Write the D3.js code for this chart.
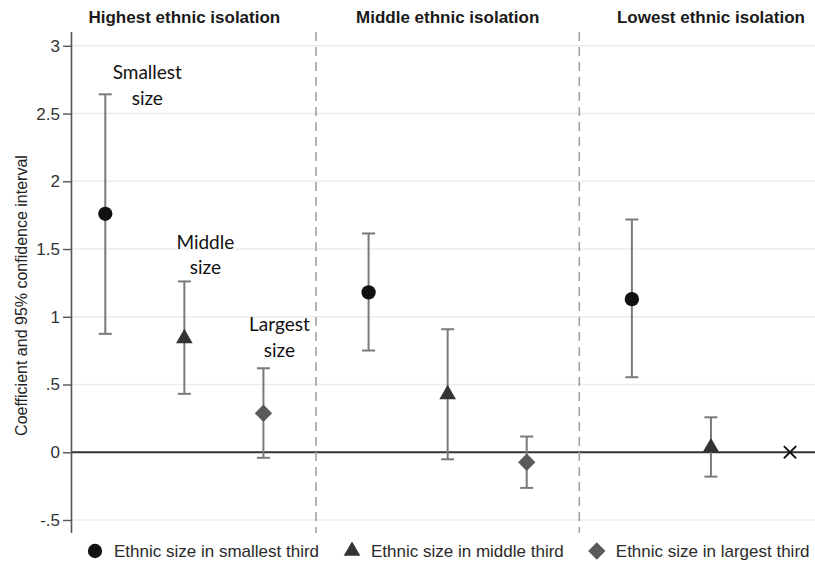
<!DOCTYPE html>
<html>
<head>
<meta charset="utf-8">
<script src="https://cdn.jsdelivr.net/npm/d3@7"></script>
<style>
  html, body { margin: 0; padding: 0; background: #fff; }
  svg { display: block; }
</style>
</head>
<body>
<svg id="chart" width="815" height="572"></svg>
<script>
// Panels (ethnic isolation tercile) and series (ethnic size tercile)
const panels = ["Highest ethnic isolation", "Middle ethnic isolation", "Lowest ethnic isolation"];
const seriesNames = ["Ethnic size in smallest third", "Ethnic size in middle third", "Ethnic size in largest third"];

// Coefficients and 95% CI bounds, one value per panel
const smallestCoef = [1.76, 1.18, 1.13];
const smallestLo   = [0.874, 0.751, 0.554];
const smallestHi   = [2.642, 1.615, 1.718];

const middleCoef = [0.84, 0.427, 0.035];
const middleLo   = [0.431, -0.052, -0.18];
const middleHi   = [1.261, 0.908, 0.258];

// Last panel has no estimate for the largest-size group (marked with an X at zero)
const largestCoef = [0.288, -0.074, null];
const largestLo   = [-0.041, -0.263, null];
const largestHi   = [0.62, 0.116, null];
const omittedValue = 0;

const yTicks = [-0.5, 0, 0.5, 1, 1.5, 2, 2.5, 3];
const yTickLabels = ["-.5", "0", ".5", "1", "1.5", "2", "2.5", "3"];

const sizeLabels = [["Smallest", "size"], ["Middle", "size"], ["Largest", "size"]];

// ---- layout ----
const svg = d3.select("#chart");
const plotLeft = 72, plotRight = 815, plotTop = 32, plotBottom = 533;
const panelStep = 3.33;             // spacing between panels in x units
const xPos = (p, s) => p * panelStep + s;

const x = d3.scaleLinear().domain([-0.421, 8.976]).range([plotLeft, plotRight]);
const y = d3.scaleLinear().domain([-0.596, 3.102]).range([plotBottom, plotTop]);

const series = [
  { name: seriesNames[0], coef: smallestCoef, lo: smallestLo, hi: smallestHi, symbol: d3.symbolCircle, size: 160, rotate: 0, fill: "#111111" },
  { name: seriesNames[1], coef: middleCoef, lo: middleLo, hi: middleHi, symbol: d3.symbolTriangle, size: 120, rotate: 0, fill: "#333333" },
  { name: seriesNames[2], coef: largestCoef, lo: largestLo, hi: largestHi, symbol: d3.symbolSquare, size: 150, rotate: 45, fill: "#5a5a5a" }
];

// gridlines
svg.append("g")
  .selectAll("line")
  .data(yTicks.filter(v => v !== 0))
  .join("line")
  .attr("x1", plotLeft).attr("x2", plotRight)
  .attr("y1", d => y(d)).attr("y2", d => y(d))
  .attr("stroke", "#ececec").attr("stroke-width", 1.6);

// zero reference line
svg.append("line")
  .attr("x1", plotLeft).attr("x2", plotRight)
  .attr("y1", y(0)).attr("y2", y(0))
  .attr("stroke", "#333").attr("stroke-width", 1.8);

// dashed separators between panels
svg.append("g")
  .selectAll("line")
  .data([1, 2])
  .join("line")
  .attr("x1", d => x(xPos(d, 0) - (panelStep - 2) / 2))
  .attr("x2", d => x(xPos(d, 0) - (panelStep - 2) / 2))
  .attr("y1", plotTop).attr("y2", plotBottom)
  .attr("stroke", "#a0a0a0").attr("stroke-width", 1.6)
  .attr("stroke-dasharray", "9,6");

// y axis
const yAxis = d3.axisLeft(y)
  .tickValues(yTicks)
  .tickFormat((d, i) => yTickLabels[i])
  .tickSize(9)
  .tickPadding(3);
const ya = svg.append("g").attr("transform", `translate(${plotLeft},0)`).call(yAxis);
ya.select(".domain").attr("stroke", "#555").attr("stroke-width", 1.6).attr("d", `M-0.5,${plotTop}V${plotBottom}`);
ya.selectAll(".tick line").attr("stroke", "#555").attr("stroke-width", 1.4);
ya.selectAll(".tick text")
  .attr("font-family", "'Liberation Sans', Arial, sans-serif")
  .attr("font-size", 17)
  .attr("fill", "#333");

// y axis title
svg.append("text")
  .attr("transform", `translate(21,${(plotTop + plotBottom) / 2 + 13}) rotate(-90)`)
  .attr("text-anchor", "middle")
  .attr("dominant-baseline", "central")
  .attr("font-family", "'Liberation Sans', Arial, sans-serif")
  .attr("font-size", 16)
  .attr("fill", "#222")
  .text("Coefficient and 95% confidence interval");

// panel titles
svg.append("g")
  .selectAll("text")
  .data(panels)
  .join("text")
  .attr("x", (d, i) => x(xPos(i, 1)))
  .attr("y", 17)
  .attr("text-anchor", "middle")
  .attr("dominant-baseline", "central")
  .attr("font-family", "'Liberation Sans', Arial, sans-serif")
  .attr("font-weight", "bold")
  .attr("font-size", 17)
  .attr("fill", "#1a1a1a")
  .text(d => d);

// confidence intervals and point estimates
const capHalf = 6.5;
series.forEach((s, si) => {
  const rows = panels.map((p, pi) => ({ pi, coef: s.coef[pi], lo: s.lo[pi], hi: s.hi[pi] }))
    .filter(r => r.coef !== null);
  const g = svg.append("g");
  const ci = g.selectAll("g.ci").data(rows).join("g").attr("class", "ci")
    .attr("stroke", "#7a7a7a").attr("stroke-width", 2).attr("fill", "none");
  ci.append("line")
    .attr("x1", r => x(xPos(r.pi, si))).attr("x2", r => x(xPos(r.pi, si)))
    .attr("y1", r => y(r.lo)).attr("y2", r => y(r.hi));
  ci.append("line")
    .attr("x1", r => x(xPos(r.pi, si)) - capHalf).attr("x2", r => x(xPos(r.pi, si)) + capHalf)
    .attr("y1", r => y(r.hi)).attr("y2", r => y(r.hi));
  ci.append("line")
    .attr("x1", r => x(xPos(r.pi, si)) - capHalf).attr("x2", r => x(xPos(r.pi, si)) + capHalf)
    .attr("y1", r => y(r.lo)).attr("y2", r => y(r.lo));
  g.selectAll("path.pt").data(rows).join("path").attr("class", "pt")
    .attr("d", d3.symbol().type(s.symbol).size(s.size))
    .attr("transform", r => `translate(${x(xPos(r.pi, si))},${y(r.coef)}) rotate(${s.rotate})`)
    .attr("fill", s.fill);
});

// omitted estimate marker
const timesType = d3.symbolTimes || d3.symbolX;
const omitted = panels.map((p, pi) => pi).filter(pi => largestCoef[pi] === null);
svg.append("g").selectAll("path").data(omitted).join("path")
  .attr("d", d3.symbol().type(timesType).size(100))
  .attr("transform", pi => `translate(${x(xPos(pi, 2))},${y(omittedValue)})`)
  .attr("fill", "none").attr("stroke", "#111").attr("stroke-width", 2);

// size annotations in the first panel
const annoAnchor = [
  { s: 0, v: 2.72, dx: 42 },
  { s: 1, v: 1.47, dx: 21 },
  { s: 2, v: 0.86, dx: 16 }
];
const anno = svg.append("g")
  .attr("font-family", "Lato, 'Open Sans', sans-serif")
  .attr("font-size", 19)
  .attr("fill", "#111")
  .attr("text-anchor", "middle");
annoAnchor.forEach(a => {
  const t = anno.append("text")
    .attr("x", x(xPos(0, a.s)) + a.dx)
    .attr("y", y(a.v))
    .attr("dominant-baseline", "central");
  sizeLabels[a.s].forEach((line, li) => {
    t.append("tspan")
      .attr("x", x(xPos(0, a.s)) + a.dx)
      .attr("dy", li === 0 ? "-0.65em" : "1.35em")
      .text(line);
  });
});

// legend
const legend = svg.append("g").attr("transform", "translate(0,551)");
let lx = 95;
series.forEach((s, si) => {
  legend.append("path")
    .attr("d", d3.symbol().type(s.symbol).size(s.size))
    .attr("transform", `translate(${lx},0) rotate(${s.rotate})`)
    .attr("fill", s.fill);
  const t = legend.append("text")
    .attr("x", lx + 19)
    .attr("y", 0)
    .attr("dominant-baseline", "central")
    .attr("font-family", "'Liberation Sans', Arial, sans-serif")
    .attr("font-size", 17)
    .attr("fill", "#2a2a2a")
    .text(s.name);
  lx = lx + 19 + t.node().getComputedTextLength() + 33;
});
</script>
</body>
</html>
